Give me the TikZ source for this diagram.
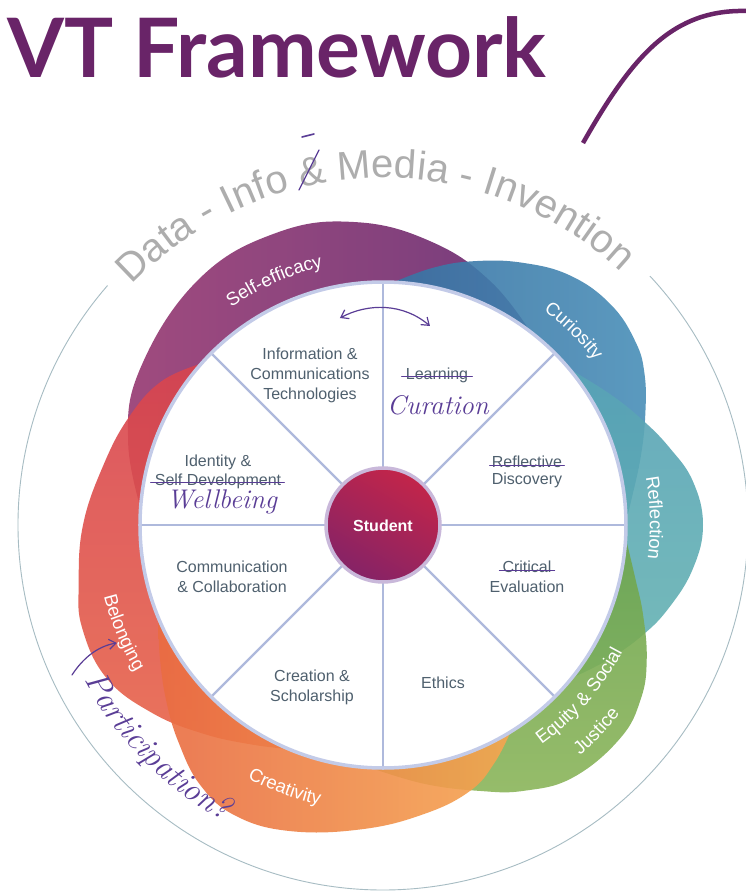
\documentclass[tikz,border=0pt]{standalone}
\usepackage{fontspec}
\setmainfont{Liberation Sans}
\newfontfamily\titlefont{Lato}
\newfontfamily\handfont{Latin Modern Roman}
\usetikzlibrary{decorations.text,arrows.meta}
\definecolor{titlec}{HTML}{692468}
\definecolor{inkc}{HTML}{5A3D96}
\definecolor{segtext}{HTML}{4F606E}
\definecolor{arcgray}{HTML}{ADADAD}
\definecolor{outerc}{HTML}{A7BCC3}
\definecolor{spokec}{HTML}{AEB9DC}
\definecolor{wheelc}{HTML}{C3CBE8}
\definecolor{purA}{HTML}{963870}
\definecolor{purB}{HTML}{67286F}
\definecolor{bluA}{HTML}{3873A4}
\definecolor{bluB}{HTML}{4A8FB8}
\definecolor{tealA}{HTML}{58A3B6}
\definecolor{tealB}{HTML}{66B4B2}
\definecolor{grnA}{HTML}{6EA54E}
\definecolor{grnB}{HTML}{8BB55A}
\definecolor{orgA}{HTML}{EA6C42}
\definecolor{orgB}{HTML}{F5A650}
\definecolor{redA}{HTML}{D8444F}
\definecolor{redB}{HTML}{E8654A}
\definecolor{stuA}{HTML}{C2254A}
\definecolor{stuB}{HTML}{862366}
\definecolor{stuborder}{HTML}{C9B8DA}
\newcommand\arcfnt{\fontsize{40}{40}\selectfont\color{arcgray}}
\newcommand\lobefnt{\fontsize{18.5}{18.5}\selectfont\color{white}}
\newcommand\partfnt{\handfont\itshape\fontsize{33}{33}\selectfont\color{inkc}}
\begin{document}
\begin{tikzpicture}[x=1pt,y=1pt,
  seg/.style={font=\fontsize{16}{20}\selectfont, text=segtext, align=center, inner sep=0pt},
  hand/.style={font=\handfont\itshape\fontsize{27}{27}\selectfont, text=inkc, inner sep=0pt},
  ink/.style={draw=inkc, line width=1.2pt, line cap=round},
  strike/.style={ink, line width=1.1pt},
  spoke/.style={draw=spokec, line width=2.4pt},
  lobe/.style={fill opacity=0.9},
  barb/.style={-{Straight Barb[length=7pt,width=10pt]}}]
\useasboundingbox (-383,-370) rectangle (363,525);
\fill[white] (-383,-370) rectangle (363,525);

% title and swoosh
\node[anchor=base west, inner sep=0pt, text=titlec, font=\titlefont\bfseries\fontsize{82}{82}\selectfont] (title) at (-376,447) {VT Framework};
\coordinate (swA) at (200,382);
\coordinate (swB) at (364,514);
\draw[titlec, line width=4.5pt] (swA) .. controls (250,470) and (290,516) .. (swB);

% outer circle and its text
\draw[outerc, line width=0.9pt] (139:365) arc[start angle=139, end angle=403, radius=365];
\path[decorate, decoration={text along path, text align=center,
  text={|\arcfnt|Data - Info {\&} Media - Invention}}]
  (139:347) arc[start angle=139, end angle=44, radius=347];
\draw[ink, line width=1.3pt] (-84,335) -- (-64,375);
\draw[ink, line width=1.6pt] (-81,388) -- (-69,391);

% lobes
\shade[lobe, left color=purA, right color=purB]
  plot[smooth, tension=0.7] coordinates {(178:240) (162:268) (147:289) (127:307) (110:311) (95:304) (80:287) (66:266) (52:242)}
  -- (52:200) arc[start angle=52, end angle=178, radius=200] -- cycle;
\shade[lobe, left color=bluA, right color=bluB]
  plot[smooth, tension=0.7] coordinates {(88:242) (79:262) (71:279) (62:297) (53:312) (44:317) (36:312) (30:302) (23:285) (15:267) (6:250) (0:242)}
  -- (0:200) arc[start angle=0, end angle=88, radius=200] -- cycle;
\shade[lobe, top color=tealA, bottom color=tealB]
  plot[smooth, tension=0.7] coordinates {(40:243) (30:262) (22:280) (15:297) (8:313) (0:320) (-8:313) (-16:298) (-23:282) (-31:262) (-39:243)}
  -- (-39:200) arc[start angle=-39, end angle=40, radius=200] -- cycle;
\shade[lobe, top color=grnA, bottom color=grnB]
  plot[smooth, tension=0.7] coordinates {(-3:243) (-12:258) (-19:275) (-27:296) (-34:311) (-42:319) (-53:316) (-62:301) (-70:283) (-81:262) (-93:243)}
  -- (-93:200) arc[start angle=-93, end angle=-3, radius=200] -- cycle;
\shade[lobe, top color=redA, bottom color=redB]
  plot[smooth, tension=0.7] coordinates {(138:242) (147:264) (157:276) (168:286) (180:300) (191:310) (199:318) (209:316) (219:298) (229:276) (239:256) (248:242)}
  -- (248:200) arc[start angle=248, end angle=138, radius=200] -- cycle;
\shade[lobe, left color=orgA, right color=orgB]
  plot[smooth, tension=0.7] coordinates {(-158:242) (-150:258) (-141:279) (-133:299) (-125:318) (-117:326) (-107:320) (-94:305) (-82:292) (-72:280) (-65:263) (-58:242)}
  -- (-58:200) arc[start angle=-58, end angle=-158, radius=200] -- cycle;

% lobe labels
\path[decorate, decoration={text along path, text align=center, text={|\lobefnt|Self-efficacy}}]
  (136:265) arc[start angle=136, end angle=92, radius=265];
\path[decorate, decoration={text along path, text align=center, text={|\lobefnt|Curiosity}}]
  (66:268) arc[start angle=66, end angle=25, radius=268];
\path[decorate, decoration={text along path, text align=center, text={|\lobefnt|Reflection}}]
  (22:267) arc[start angle=22, end angle=-19, radius=267];
\path[decorate, decoration={text along path, text align=center, text={|\lobefnt|Equity {\&} Social}}]
  (-66:271) arc[start angle=-66, end angle=-16, radius=271];
\path[decorate, decoration={text along path, text align=center, text={|\lobefnt|Justice}}]
  (-62:303) arc[start angle=-62, end angle=-26, radius=303];
\path[decorate, decoration={text along path, text align=center, text={|\lobefnt|Creativity}}]
  (-131:287) arc[start angle=-131, end angle=-90, radius=287];
\path[decorate, decoration={text along path, text align=center, text={|\lobefnt|Belonging}}]
  (-178:288) arc[start angle=-178, end angle=-137, radius=288];

% wheel
\fill[white] (0,0) circle[radius=243];
\foreach \a in {0,45,...,315} \draw[spoke] (\a:56) -- (\a:243);
\draw[wheelc, line width=3.5pt] (0,0) circle[radius=243];

% student hub
\shade[left color=stuA, right color=stuB, shading angle=-30] (0,0) circle[radius=56];
\draw[stuborder, line width=3.5pt] (0,0) circle[radius=57];
\node[text=white, font=\bfseries\fontsize{16}{16}\selectfont] (stu) at (0,-1) {Student};

% segment texts
\node[seg] (ict) at (-73,150) {Information \&\\Communications\\Technologies};
\node[seg] (learn) at (54,150) {Learning};
\draw[strike] ([xshift=-4pt]learn.mid west) -- ([xshift=4pt]learn.mid east);
\node[hand] (cur) at (55,120) {Curation};
\node[seg] (ident) at (-165,63) {Identity \&};
\node[seg] (selfdev) at (-165,44) {Self Development};
\draw[strike] ([xshift=-4pt]selfdev.mid west) -- ([xshift=3pt]selfdev.mid east);
\node[hand] (well) at (-161,23) {Wellbeing};
\node[seg] (refl) at (144,63) {Reflective};
\draw[strike] ([xshift=-2pt]refl.mid west) -- ([xshift=2pt]refl.mid east);
\node[seg] (disc) at (144,45) {Discovery};
\node[seg] (comm) at (-151,-52) {Communication\\\& Collaboration};
\node[seg] (crit) at (144,-42) {Critical};
\draw[strike] ([xshift=-3pt]crit.mid west) -- ([xshift=3pt]crit.mid east);
\node[seg] (eval) at (144,-62) {Evaluation};
\node[seg] (creat) at (-71,-162) {Creation \&\\Scholarship};
\node[seg] (eth) at (60,-158) {Ethics};

% hand-drawn arrows
\coordinate (dl) at (-43,207);
\coordinate (dr) at (47,199);
\draw[ink, {Straight Barb[length=7pt,width=10pt]}-{Straight Barb[length=7pt,width=10pt]}] (dl) .. controls (-15,222) and (20,222) .. (dr);
\coordinate (pA) at (-311,-150);
\coordinate (pB) at (-266,-118);
\draw[ink, barb] (pA) .. controls (-300,-133) and (-285,-121) .. (pB);

% participation
\path[decorate, decoration={text along path, text align=center, text={|\partfnt|Participation?}}]
  (-162:336) arc[start angle=-162, end angle=-109, radius=336];
\end{tikzpicture}
\end{document}
